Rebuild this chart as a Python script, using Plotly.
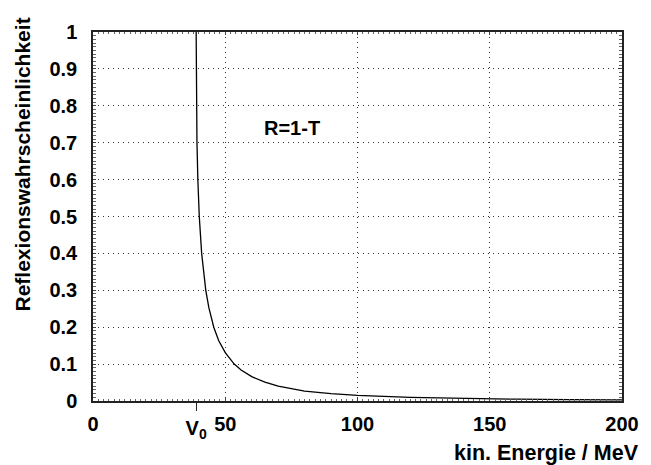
import plotly.graph_objects as go

# values
V0 = 39.0
energy = [39.0, 39.03, 39.12, 39.31, 39.64, 40.18, 41.08, 42.64, 43.8, 45.66, 47.5,
          50.0, 53.4, 56.0, 60.0, 65.0, 70.0, 80.0, 90.0, 100.0, 120.0, 140.0,
          160.0, 180.0, 200.0]
refl = [1.0, 0.9, 0.8, 0.7, 0.6, 0.5, 0.4, 0.3, 0.253, 0.2, 0.164,
        0.131, 0.1, 0.084, 0.066, 0.051, 0.040, 0.027, 0.020, 0.015, 0.0096, 0.0066,
        0.0049, 0.0037, 0.0029]

x_ticks = [0, 50, 100, 150, 200]
y_ticks = [0, 0.1, 0.2, 0.3, 0.4, 0.5, 0.6, 0.7, 0.8, 0.9, 1]
y_ticktext = ["0", "0.1", "0.2", "0.3", "0.4", "0.5", "0.6", "0.7", "0.8", "0.9", "1"]

FONT = "Liberation Sans, Arial, sans-serif"
GRID_DASH = "1px,4px"

fig = go.Figure()
fig.add_trace(go.Scatter(x=energy, y=refl, mode="lines",
                         line=dict(color="black", width=1.3), showlegend=False))
# invisible trace to activate the V0 axis
fig.add_trace(go.Scatter(x=[V0], y=[0], xaxis="x2", mode="markers",
                         marker=dict(opacity=0, size=1), showlegend=False, hoverinfo="skip"))

fig.update_layout(
    width=643, height=457,
    margin=dict(l=85, r=26, t=24, b=64),
    paper_bgcolor="white", plot_bgcolor="white",
    font=dict(family=FONT, color="black"),
    xaxis=dict(
        range=[0, 200], tickvals=x_ticks, ticktext=[str(v) for v in x_ticks],
        showgrid=True, gridcolor="#333", griddash=GRID_DASH, gridwidth=1,
        showline=True, linecolor="#222", linewidth=1.5, mirror="allticks",
        ticks="inside", ticklen=3, tickcolor="#444",
        minor=dict(dtick=2, ticks="inside", ticklen=2, tickcolor="#666", showgrid=False),
        tickfont=dict(size=20, weight="bold", family=FONT),
        zeroline=False, ticklabelstandoff=4,
    ),
    xaxis2=dict(
        range=[0, 200], overlaying="x", side="bottom", anchor="y",
        tickvals=[V0], ticktext=["V<sub>0</sub>"],
        ticks="outside", ticklen=9, tickcolor="#222", tickwidth=1,
        showgrid=False, showline=False, zeroline=False,
        tickfont=dict(size=20, weight="bold", family=FONT),
    ),
    yaxis=dict(
        range=[0, 1], tickvals=y_ticks, ticktext=y_ticktext,
        showgrid=True, gridcolor="#333", griddash=GRID_DASH, gridwidth=1,
        showline=True, linecolor="#222", linewidth=1.5, mirror="allticks",
        ticks="inside", ticklen=3, tickcolor="#444",
        minor=dict(dtick=0.01, ticks="inside", ticklen=2, tickcolor="#666", showgrid=False),
        tickfont=dict(size=20, weight="bold", family=FONT),
        zeroline=False, ticklabelstandoff=10,
    ),
    annotations=[
        dict(text="R=1-T", x=75.4, y=0.74, xref="x", yref="y", showarrow=False,
             font=dict(size=20, weight="bold", family=FONT), xanchor="center", yanchor="middle"),
        dict(text="kin. Energie / MeV", x=1.036, y=-0.141, xref="paper", yref="paper",
             showarrow=False, xanchor="right", yanchor="middle",
             font=dict(size=21.5, weight="bold", family=FONT)),
        dict(text="Reflexionswahrscheinlichkeit", x=-0.1335, y=0.642, xref="paper", yref="paper",
             showarrow=False, xanchor="center", yanchor="middle", textangle=-90,
             font=dict(size=21, weight="bold", family=FONT)),
    ],
)

fig.write_html("out.html")
